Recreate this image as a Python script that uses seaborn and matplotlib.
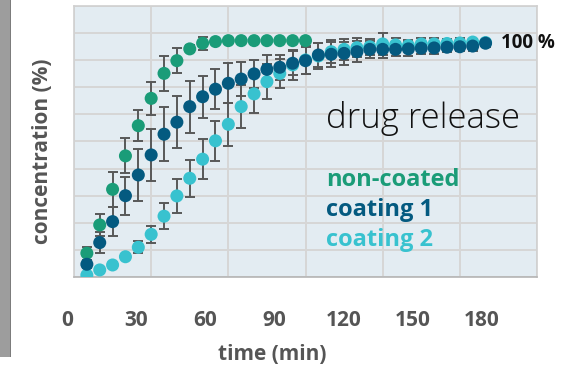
import numpy as np
import pandas as pd
import matplotlib
matplotlib.use("Agg")
import matplotlib.pyplot as plt
from matplotlib.patches import Rectangle
import seaborn as sns

# ---- data ----
time_min = list(range(5, 165, 5))  # 5 ... 160 min

non_coated = [10.1, 22.1, 37.2, 51.4, 64.2, 75.8, 86.4, 91.8, 96.8, 99.2, 99.9,
              100.3, 100.3, 100.3, 100.3, 100.3, 100.3, 100.3]
non_coated_err = [2.8, 4.7, 7.4, 7.4, 6.5, 7.1, 7.5, 5.2, 1.5, 2.8, 0.8,
                  0.5, 0.5, 0.5, 0.5, 0.5, 0.5, 0.5]

coating1 = [5.4, 14.6, 23.5, 34.5, 43.3, 51.8, 60.6, 65.7, 72.3, 76.5, 79.7,
            82.2, 84.0, 86.2, 88.1, 89.0, 90.7, 91.8, 94.2, 94.5, 94.9, 95.6,
            96.6, 96.6, 96.6, 96.8, 97.1, 97.2, 97.5, 97.7, 98.0, 99.2]
coating1_err = [1.5, 4.5, 6.1, 8.1, 10.9, 10.9, 11.4, 11.0, 11.0, 9.0, 8.5,
                8.5, 7.3, 6.0, 6.0, 5.3, 5.0, 5.6, 5.2, 5.3, 5.0, 4.4,
                3.5, 3.5, 3.0, 3.0, 2.5, 2.5, 2.0, 2.0, 2.0, 1.5]

coating2 = [0.8, 3.0, 5.1, 8.6, 12.6, 18.1, 25.8, 34.4, 41.9, 50.0, 57.8,
            64.8, 72.3, 77.7, 82.9, 86.4, 90.0, 92.1, 93.8, 95.6, 96.6, 97.3,
            97.7, 98.9, 98.5, 98.2, 98.9, 98.9, 99.1, 99.3, 99.7, 99.5]
coating2_err = [0.5, 0.5, 0.5, 1.0, 2.6, 3.5, 5.4, 7.1, 7.9, 8.5, 8.5,
                9.1, 9.0, 8.0, 7.3, 6.2, 6.5, 6.0, 5.5, 5.0, 4.5, 4.0,
                3.5, 4.7, 3.0, 2.5, 2.5, 2.5, 2.0, 2.0, 1.5, 1.0]

series_names = ["non-coated", "coating 1", "coating 2"]
x_tick_labels = [0, 30, 60, 90, 120, 150, 180]

colors = {"non-coated": "#1a9c78", "coating 1": "#045a80", "coating 2": "#38c2cf"}

# ---- build long table (draw order: coating 2, non-coated, coating 1 on top) ----
frames = []
for name, vals, errs in [("coating 2", coating2, coating2_err),
                         ("non-coated", non_coated, non_coated_err),
                         ("coating 1", coating1, coating1_err)]:
    frames.append(pd.DataFrame({"time": time_min[:len(vals)], "conc": vals,
                                "err": errs, "series": name}))
df = pd.concat(frames, ignore_index=True)

# ---- figure ----
sns.set_theme(style="white")
plt.rcParams["font.family"] = ["Open Sans", "DejaVu Sans"]

W, H = 582, 366
fig = plt.figure(figsize=(W / 100, H / 100), dpi=100)
fig.patch.set_facecolor("white")

# grey strip on the left
fig.patches.append(Rectangle((0, 1 - 357 / H), 10 / W, 357 / H, transform=fig.transFigure,
                             facecolor="#9d9d9d", edgecolor="none", zorder=0))
fig.patches.append(Rectangle((10 / W, 1 - 357 / H), 1.2 / W, 357 / H, transform=fig.transFigure,
                             facecolor="#7c7c7c", edgecolor="none", zorder=0))

ax = fig.add_axes([74 / W, 1 - 277 / H, (537 - 74) / W, (277 - 6) / H])
ax.set_facecolor("#e3ecf2")

ax.set_xlim(0, 180)
ax.set_ylim(0, 115)
ax.set_xticks(x_tick_labels)
ax.set_yticks(np.arange(0, 115.1, 11.5))
ax.grid(True, color="#d6d6d6", linewidth=1.4)
ax.set_axisbelow(True)
ax.tick_params(axis="both", length=0, labelbottom=False, labelleft=False)
for side, sp in ax.spines.items():
    sp.set_visible(True)
    sp.set_color("#d0d0d0")
    sp.set_linewidth(1.2)
ax.spines["bottom"].set_color("#b5b5b5")

# error bars
for name in series_names:
    d = df[df["series"] == name]
    ax.errorbar(d["time"], d["conc"], yerr=d["err"], fmt="none", ecolor="#585858",
                elinewidth=1.4, capsize=3.6, capthick=1.4, zorder=2)

sns.scatterplot(data=df, x="time", y="conc", hue="series", palette=colors,
                s=88, linewidth=0, alpha=1, legend=False, ax=ax, zorder=3)
ax.set_xlabel("")
ax.set_ylabel("")

# tick labels: in the reference they are spread slightly narrower than the grid
lab_ax = fig.add_axes([67 / W, 1 - 277 / H, (482 - 67) / W, 0.001])
lab_ax.set_xlim(0, 180)
lab_ax.set_xticks(x_tick_labels)
lab_ax.set_xticklabels([str(v) for v in x_tick_labels])
lab_ax.set_yticks([])
lab_ax.patch.set_visible(False)
for sp in lab_ax.spines.values():
    sp.set_visible(False)
lab_ax.tick_params(axis="x", length=0, pad=24, labelsize=15, labelcolor="#555555")
for lab in lab_ax.get_xticklabels():
    lab.set_fontweight("bold")

fig.text(272 / W, 1 - 355 / H, "time (min)", ha="center", va="center",
         fontsize=15, fontweight="bold", color="#555555")
fig.text(43 / W, 1 - 151 / H, "concentration (%)", ha="center", va="center",
         rotation=90, fontsize=15, fontweight="bold", color="#555555")

fig.text(501 / W, 1 - 43 / H, "100 %", ha="left", va="center",
         fontsize=13.5, fontweight="bold", color="#111111")
fig.text(326 / W, 1 - 128 / H, "drug release", ha="left", va="baseline",
         fontsize=25, fontweight="light", color="#111111")
for i, name in enumerate(series_names):
    fig.text(326 / W, 1 - (180 + 30 * i) / H, name, ha="left", va="center",
             fontsize=17, fontweight="bold", color=colors[name])

fig.savefig("out.png", dpi=100)
